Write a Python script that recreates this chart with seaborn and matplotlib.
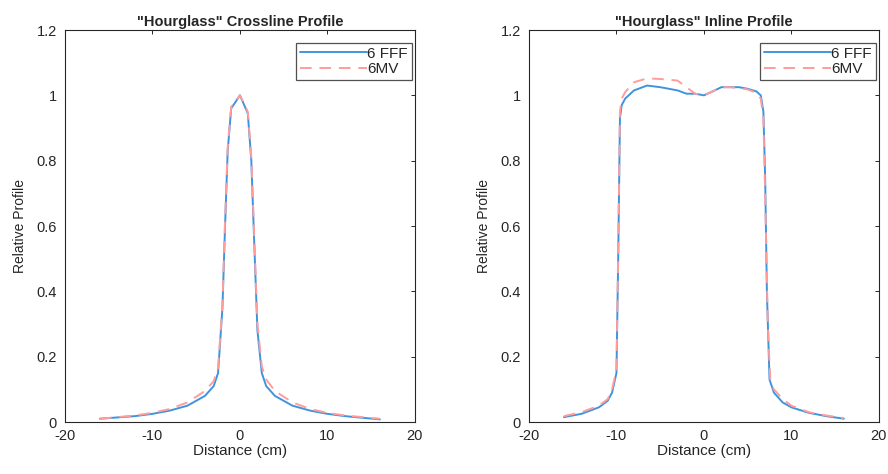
import numpy as np
import pandas as pd
import matplotlib
matplotlib.use("Agg")
import matplotlib.pyplot as plt
import seaborn as sns

# Crossline profile
cross_x_fff = [-16, -12, -10, -8, -6, -4, -3, -2.5, -2, -1.7, -1.4, -1, 0, 0.9, 1.3, 1.7, 2, 2.5, 3, 4, 6, 8, 10, 12, 16]
cross_y_fff = [0.01, 0.018, 0.025, 0.035, 0.05, 0.08, 0.11, 0.15, 0.35, 0.6, 0.83, 0.96, 1.0, 0.945, 0.8, 0.5, 0.28, 0.15, 0.11, 0.08, 0.05, 0.035, 0.025, 0.018, 0.008]
cross_x_6mv = [-16, -12, -10, -8, -6, -4, -3, -2.5, -2, -1.7, -1.4, -1, 0, 0.9, 1.3, 1.7, 2, 2.5, 3, 4, 6, 8, 10, 12, 16]
cross_y_6mv = [0.01, 0.02, 0.028, 0.04, 0.06, 0.095, 0.125, 0.165, 0.36, 0.62, 0.84, 0.965, 1.0, 0.95, 0.81, 0.52, 0.3, 0.17, 0.13, 0.095, 0.06, 0.04, 0.028, 0.02, 0.01]

# Inline profile
in_x_fff = [-16, -14, -12, -11, -10.5, -10, -9.8, -9.6, -9.4, -9, -8, -6.5, -5, -4, -3, -2, -1, 0, 1, 2, 3, 4, 5, 6, 6.5, 6.8, 7.0, 7.2, 7.5, 8, 9, 10, 12, 14, 16]
in_y_fff = [0.015, 0.025, 0.045, 0.065, 0.09, 0.15, 0.5, 0.93, 0.97, 0.99, 1.015, 1.03, 1.025, 1.02, 1.015, 1.005, 1.005, 1.0, 1.012, 1.025, 1.025, 1.025, 1.02, 1.012, 1.0, 0.95, 0.75, 0.4, 0.13, 0.09, 0.06, 0.045, 0.028, 0.018, 0.01]
in_x_6mv = [-16, -14, -12, -11, -10.5, -10, -9.8, -9.6, -9.4, -9, -8, -6.5, -5, -4, -3, -2, -1, 0, 1, 2, 3, 4, 5, 6, 6.5, 6.8, 7.0, 7.3, 7.6, 8, 9, 10, 12, 14, 16]
in_y_6mv = [0.018, 0.03, 0.05, 0.07, 0.1, 0.16, 0.52, 0.95, 0.99, 1.01, 1.04, 1.052, 1.05, 1.048, 1.045, 1.025, 1.005, 1.0, 1.012, 1.025, 1.025, 1.022, 1.018, 1.008, 0.99, 0.93, 0.7, 0.3, 0.12, 0.1, 0.07, 0.05, 0.03, 0.02, 0.012]

titles = ['"Hourglass" Crossline Profile', '"Hourglass" Inline Profile']
series_names = ["6 FFF", "6MV"]
x_ticks = [-20, -10, 0, 10, 20]
y_ticks = [0, 0.2, 0.4, 0.6, 0.8, 1.0, 1.2]
y_tick_labels = ["0", "0.2", "0.4", "0.6", "0.8", "1", "1.2"]

sns.set_style("white")
plt.rcParams["font.family"] = ["Liberation Sans", "DejaVu Sans"]
plt.rcParams["axes.unicode_minus"] = False

fig = plt.figure(figsize=(8.88, 4.74), dpi=100)
ax1 = fig.add_axes([0.0732, 0.1097, 0.394, 0.827])
ax2 = fig.add_axes([0.5957, 0.1097, 0.394, 0.827])

datasets = [
    (ax1, cross_x_fff, cross_y_fff, cross_x_6mv, cross_y_6mv, titles[0]),
    (ax2, in_x_fff, in_y_fff, in_x_6mv, in_y_6mv, titles[1]),
]

for ax, xf, yf, xm, ym, title in datasets:
    df_f = pd.DataFrame({"x": xf, "y": yf})
    df_m = pd.DataFrame({"x": xm, "y": ym})
    sns.lineplot(data=df_f, x="x", y="y", ax=ax, color="#3f94dd", lw=1.4,
                 label=series_names[0], sort=False, estimator=None)
    sns.lineplot(data=df_m, x="x", y="y", ax=ax, color="#ff9c9c", lw=1.4,
                 linestyle=(0, (6, 4)), label=series_names[1], sort=False, estimator=None)
    ax.set_xlim(-20, 20)
    ax.set_ylim(0, 1.2)
    ax.set_xticks(x_ticks)
    ax.set_yticks(y_ticks)
    ax.set_yticklabels(y_tick_labels)
    ax.tick_params(direction="in", length=3, labelsize=10.5, colors="#262626",
                   top=True, right=True, width=0.7)
    ax.tick_params(axis="y", pad=6)
    ax.tick_params(axis="x", pad=5)
    for s in ax.spines.values():
        s.set_color("#262626")
        s.set_linewidth(0.8)
    ax.set_xlabel("Distance (cm)", fontsize=11, color="#262626", labelpad=1)
    ax.set_ylabel("Relative Profile", fontsize=10, color="#262626", labelpad=7)
    ax.set_title(title, fontsize=10.5, fontweight="bold", pad=3)
    leg = ax.legend(loc="upper right", bbox_to_anchor=(0.991, 0.967),
                    fontsize=11, handlelength=4.4,
                    handletextpad=0.0, frameon=True, fancybox=False,
                    borderpad=0.25, labelspacing=0.1, borderaxespad=0.0)
    leg.get_frame().set_edgecolor("#262626")
    leg.get_frame().set_linewidth(0.9)

fig.savefig("out.png", dpi=100)
